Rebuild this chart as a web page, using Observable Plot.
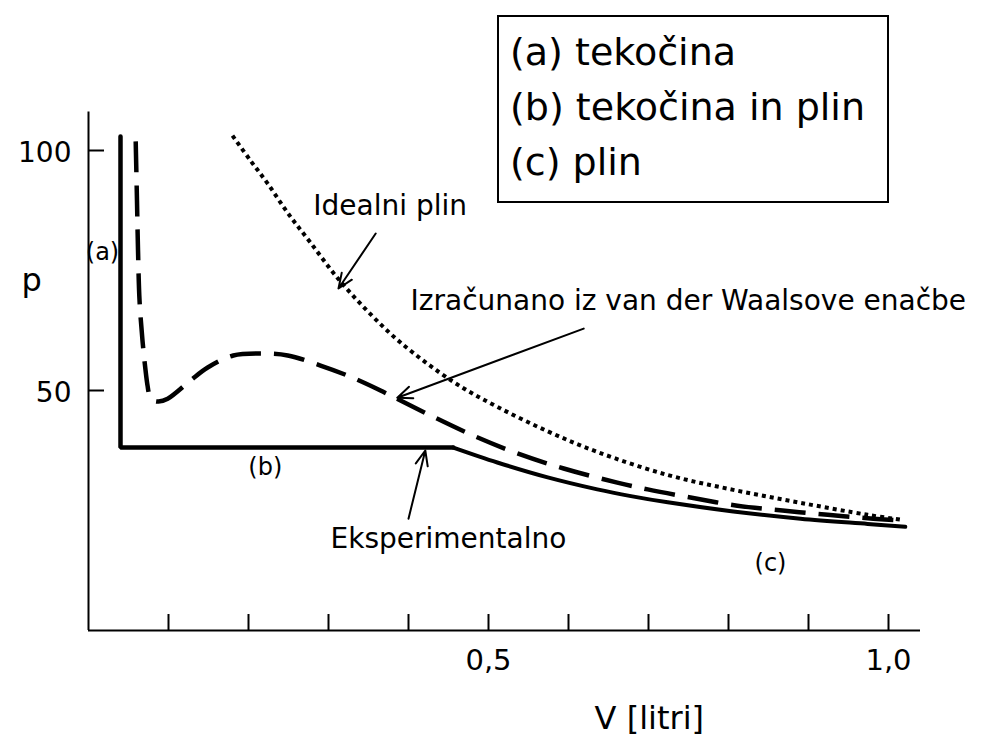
<!DOCTYPE html>
<html>
<head>
<meta charset="utf-8">
<script src="https://cdn.jsdelivr.net/npm/d3@7"></script>
<script src="https://cdn.jsdelivr.net/npm/@observablehq/plot@0.6"></script>
<style>
  html, body { margin: 0; padding: 0; background: #fff; }
  #wrap { position: relative; width: 981px; height: 743px; overflow: hidden; }
  #legend {
    position: absolute; left: 497px; top: 15px; width: 392px; height: 188px;
    box-sizing: border-box; border: 2px solid #000; background: #fff;
    font-family: "DejaVu Sans", sans-serif; font-size: 38px; line-height: 55px;
    padding: 8px 0 0 11px; color: #000; white-space: nowrap;
  }
</style>
</head>
<body>
<div id="wrap">
  <div id="chart"></div>
  <div id="legend"></div>
</div>
<script>
// ---- data (V in litres, p) ----
const idealV = [0.180, 0.2025, 0.224, 0.249, 0.2775, 0.311, 0.349, 0.390, 0.456, 0.511, 0.574, 0.636, 0.724, 0.806, 0.890, 0.974, 1.019];
const idealP = [103.1, 97.9, 93.1, 87.0, 80.8, 73.5, 66.5, 60.0, 51.8, 46.6, 41.5, 37.2, 32.4, 29.3, 26.6, 24.1, 23.0];

const vdwV = [0.059, 0.0606, 0.0619, 0.0638, 0.0675, 0.0713, 0.0738, 0.0763, 0.0813, 0.0875, 0.099, 0.1275, 0.149, 0.181, 0.215, 0.249, 0.290, 0.324, 0.365, 0.390, 0.4275, 0.481, 0.536, 0.594, 0.661, 0.699, 0.7525, 0.811, 0.8675, 0.924, 0.981, 1.019];
const vdwP = [101.9, 89.6, 79.2, 68.75, 60.4, 54.2, 51.0, 49.0, 47.9, 47.7, 48.3, 52.1, 54.8, 57.3, 57.7, 57.3, 55.2, 53.1, 50.0, 47.9, 44.8, 40.6, 36.9, 33.75, 30.8, 29.4, 27.7, 26.0, 25.0, 24.1, 23.3, 22.9];

const expLiquidV = [0.04, 0.04, 0.456];
const expLiquidP = [102.9, 38.1, 38.1];
const expGasV = [0.456, 0.511, 0.574, 0.636, 0.678, 0.724, 0.806, 0.890, 0.974, 1.021];
const expGasP = [38.1, 35.0, 31.9, 29.4, 28.0, 26.7, 24.8, 23.3, 22.2, 21.6];

const xTicks = [0.1, 0.2, 0.3, 0.4, 0.5, 0.6, 0.7, 0.8, 0.9, 1.0];
const xTickValues = [0.5, 1.0];
const xTickLabels = ["0,5", "1,0"];
const yTickValues = [50, 100];
const yTickLabels = ["50", "100"];
const xAxisExtent = [0, 1.04];
const yAxisExtent = [0, 108];

const legendLines = ["(a) tekočina", "(b) tekočina in plin", "(c) plin"];

// annotations: label text and anchor position in data units
const noteText = ["Idealni plin", "Izračunano iz van der Waalsove enačbe", "Eksperimentalno"];
const noteV = [0.281, 0.4025, 0.3025];
const noteP = [88.5, 68.6, 19.0];
const phaseText = ["(a)", "(b)", "(c)"];
const phaseV = [0.0175, 0.221, 0.8525];
const phaseP = [78.8, 34.0, 14.0];
const arrowFromV = [0.359, 0.619, 0.400];
const arrowFromP = [82.7, 62.9, 23.3];
const arrowToV = [0.3125, 0.386, 0.421];
const arrowToP = [71.25, 48.5, 37.5];
const axisTitleText = ["p", "V [litri]"];
const axisTitleV = [-0.071, 0.701];
const axisTitleP = [72.9, -18.3];

// ---- build tables ----
const zip = (V, P) => V.map((v, i) => ({V: v, p: P[i]}));
const ideal = zip(idealV, idealP);
const vdw = zip(vdwV, vdwP);
const expLiquid = zip(expLiquidV, expLiquidP);
const expGas = zip(expGasV, expGasP);
const notes = noteText.map((t, i) => ({t, V: noteV[i], p: noteP[i]}));
const phases = phaseText.map((t, i) => ({t, V: phaseV[i], p: phaseP[i]}));
const arrows = arrowFromV.map((v, i) => ({V1: v, p1: arrowFromP[i], V2: arrowToV[i], p2: arrowToP[i]}));
const axisTitles = axisTitleText.map((t, i) => ({t, V: axisTitleV[i], p: axisTitleP[i]}));
const xLabelMap = new Map(xTickValues.map((v, i) => [v, xTickLabels[i]]));
const yLabelMap = new Map(yTickValues.map((v, i) => [v, yTickLabels[i]]));

const chart = Plot.plot({
  width: 981,
  height: 743,
  marginLeft: 88,
  marginRight: 93,
  marginTop: 150,
  marginBottom: 113,
  x: {domain: [0, 1], label: null},
  y: {domain: [0, 100], label: null},
  style: {fontFamily: "DejaVu Sans", background: "white", color: "black", overflow: "visible"},
  marks: [
    Plot.ruleX([0], {y1: yAxisExtent[0], y2: yAxisExtent[1], strokeWidth: 2}),
    Plot.ruleY([0], {x1: xAxisExtent[0], x2: xAxisExtent[1], strokeWidth: 2}),
    Plot.axisX(xTicks, {tickSize: -16, strokeWidth: 2, tickFormat: () => "", label: null}),
    Plot.axisX(xTickValues, {tickSize: 0, tickPadding: 19, tickFormat: d => xLabelMap.get(d), fontSize: 29, label: null}),
    Plot.axisY(yTickValues, {tickSize: -16, strokeWidth: 2, tickFormat: () => "", label: null}),
    Plot.axisY(yTickValues, {tickSize: 0, tickPadding: 17, tickFormat: d => yLabelMap.get(d), fontSize: 28, dy: 3, label: null}),
    Plot.line(ideal, {x: "V", y: "p", curve: "catmull-rom", strokeWidth: 4, strokeDasharray: "4,4", strokeLinecap: "butt"}),
    Plot.line(vdw, {x: "V", y: "p", curve: "catmull-rom", strokeWidth: 4.5, strokeDasharray: "31,13", strokeLinecap: "butt"}),
    Plot.line(expLiquid, {x: "V", y: "p", strokeWidth: 4.5, strokeLinejoin: "miter"}),
    Plot.line(expGas, {x: "V", y: "p", curve: "catmull-rom", strokeWidth: 4}),
    Plot.arrow(arrows, {x1: "V1", y1: "p1", x2: "V2", y2: "p2", strokeWidth: 2, headLength: 12, headAngle: 45}),
    Plot.text(notes, {x: "V", y: "p", text: "t", textAnchor: "start", lineAnchor: "middle", fontSize: 28}),
    Plot.text(phases, {x: "V", y: "p", text: "t", textAnchor: "middle", lineAnchor: "middle", fontSize: 24}),
    Plot.text(axisTitles, {x: "V", y: "p", text: "t", textAnchor: "middle", lineAnchor: "middle", fontSize: 32})
  ]
});
document.getElementById("chart").appendChild(chart);

const legend = document.getElementById("legend");
legendLines.forEach(line => {
  const d = document.createElement("div");
  d.textContent = line;
  legend.appendChild(d);
});
</script>
</body>
</html>
